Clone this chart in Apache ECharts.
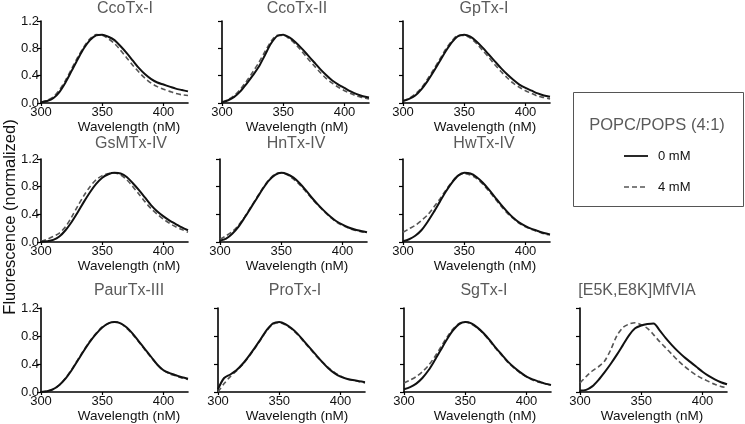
<!DOCTYPE html>
<html>
<head>
<meta charset="utf-8">
<script src="https://cdn.jsdelivr.net/npm/echarts@6/dist/echarts.min.js"></script>
<style>
html,body{margin:0;padding:0;background:#fff;}
#chart{width:745px;height:424px;}
</style>
</head>
<body>
<div id="chart"></div>
<script>
// ---------- data ----------
const wavelength = [300,305,310,315,320,325,330,335,340,345,350,355,360,365,370,375,380,385,390,395,400,405,410,415,420];
const panelNames = ['CcoTx-I','CcoTx-II','GpTx-I','GsMTx-IV','HnTx-IV','HwTx-IV','PaurTx-III','ProTx-I','SgTx-I','[E5K,E8K]MfVIA'];
const xTickValues = [300,350,400];
const yTickLabels = ['0.0','0.4','0.8','1.2'];
const legendTitle = 'POPC/POPS (4:1)';
const legendLabels = ['0 mM','4 mM'];

const ccoTx1_0mM = [0.01,0.03,0.07,0.16,0.30,0.47,0.64,0.80,0.92,0.99,1.00,0.97,0.92,0.83,0.73,0.62,0.51,0.42,0.35,0.30,0.27,0.24,0.21,0.19,0.17];
const ccoTx1_4mM = [0.01,0.04,0.09,0.19,0.33,0.50,0.67,0.82,0.94,1.00,0.99,0.94,0.87,0.77,0.66,0.55,0.45,0.36,0.29,0.24,0.20,0.17,0.14,0.12,0.11];
const ccoTx2_0mM = [0.01,0.04,0.09,0.17,0.28,0.40,0.53,0.70,0.87,0.98,1.00,0.96,0.89,0.80,0.70,0.60,0.50,0.41,0.33,0.27,0.22,0.17,0.13,0.10,0.08];
const ccoTx2_4mM = [0.01,0.05,0.11,0.20,0.32,0.45,0.59,0.75,0.90,0.99,0.99,0.94,0.86,0.76,0.65,0.55,0.45,0.36,0.29,0.23,0.18,0.14,0.10,0.08,0.06];
const gpTx1_0mM = [0.03,0.06,0.11,0.20,0.32,0.46,0.61,0.76,0.89,0.98,1.00,0.97,0.90,0.81,0.71,0.61,0.51,0.42,0.34,0.27,0.22,0.18,0.14,0.11,0.09];
const gpTx1_4mM = [0.03,0.07,0.13,0.22,0.35,0.49,0.64,0.79,0.91,0.99,0.99,0.95,0.87,0.77,0.67,0.56,0.46,0.37,0.29,0.23,0.18,0.14,0.10,0.08,0.06];
const gsMTx4_0mM = [0.00,0.01,0.03,0.08,0.17,0.29,0.43,0.58,0.72,0.84,0.93,0.98,1.00,0.99,0.94,0.85,0.75,0.64,0.53,0.44,0.37,0.31,0.26,0.21,0.17];
const gsMTx4_4mM = [0.01,0.04,0.08,0.13,0.22,0.36,0.52,0.67,0.80,0.90,0.96,0.99,1.00,0.97,0.90,0.80,0.69,0.58,0.48,0.40,0.33,0.27,0.22,0.18,0.14];
const hnTx4_0mM = [0.02,0.05,0.12,0.22,0.35,0.49,0.63,0.77,0.89,0.97,1.00,0.98,0.93,0.85,0.75,0.64,0.54,0.45,0.37,0.30,0.25,0.21,0.18,0.16,0.14];
const hnTx4_4mM = [0.04,0.09,0.15,0.24,0.36,0.50,0.64,0.78,0.90,0.98,1.00,0.97,0.91,0.83,0.73,0.63,0.53,0.44,0.36,0.29,0.24,0.20,0.17,0.15,0.13];
const hwTx4_0mM = [0.01,0.04,0.09,0.17,0.29,0.43,0.58,0.73,0.86,0.96,1.00,0.99,0.94,0.86,0.76,0.65,0.54,0.44,0.35,0.28,0.23,0.19,0.16,0.13,0.11];
const hwTx4_4mM = [0.14,0.19,0.24,0.31,0.39,0.50,0.62,0.75,0.87,0.96,0.99,0.97,0.92,0.84,0.74,0.63,0.52,0.42,0.34,0.27,0.22,0.18,0.15,0.12,0.10];
const paurTx3_0mM = [0.00,0.01,0.04,0.10,0.19,0.31,0.45,0.59,0.72,0.83,0.92,0.98,1.00,0.98,0.92,0.83,0.72,0.61,0.50,0.39,0.31,0.27,0.24,0.21,0.19];
const paurTx3_4mM = [0.00,0.01,0.04,0.10,0.20,0.32,0.46,0.60,0.73,0.84,0.93,0.98,1.00,0.98,0.91,0.82,0.71,0.60,0.49,0.39,0.31,0.26,0.23,0.20,0.18];
const proTx1_0mM = [0.04,0.20,0.25,0.31,0.40,0.51,0.63,0.76,0.89,0.98,1.00,0.97,0.91,0.83,0.73,0.63,0.53,0.43,0.34,0.27,0.22,0.19,0.17,0.155,0.14];
const proTx1_4mM = [0.00,0.12,0.22,0.30,0.39,0.50,0.62,0.75,0.88,0.97,0.99,0.96,0.90,0.82,0.72,0.62,0.52,0.43,0.35,0.28,0.23,0.19,0.17,0.15,0.13];
const sgTx1_0mM = [0.04,0.07,0.12,0.20,0.31,0.45,0.60,0.75,0.88,0.97,1.00,0.98,0.92,0.84,0.74,0.63,0.53,0.43,0.35,0.28,0.22,0.18,0.15,0.12,0.10];
const sgTx1_4mM = [0.13,0.17,0.22,0.29,0.38,0.50,0.64,0.78,0.90,0.98,1.00,0.97,0.91,0.83,0.73,0.62,0.52,0.42,0.34,0.27,0.22,0.17,0.14,0.12,0.10];
const mfVIA_0mM = [0.02,0.03,0.08,0.17,0.28,0.40,0.53,0.67,0.81,0.91,0.95,0.97,0.98,0.88,0.77,0.67,0.58,0.50,0.43,0.36,0.29,0.23,0.18,0.14,0.11];
const mfVIA_4mM = [0.13,0.22,0.30,0.36,0.44,0.60,0.80,0.92,0.97,0.99,0.96,0.91,0.82,0.72,0.63,0.54,0.45,0.37,0.30,0.24,0.19,0.15,0.11,0.08,0.06];

const solidSets = [ccoTx1_0mM,ccoTx2_0mM,gpTx1_0mM,gsMTx4_0mM,hnTx4_0mM,hwTx4_0mM,paurTx3_0mM,proTx1_0mM,sgTx1_0mM,mfVIA_0mM];
const dashedSets = [ccoTx1_4mM,ccoTx2_4mM,gpTx1_4mM,gsMTx4_4mM,hnTx4_4mM,hwTx4_4mM,paurTx3_4mM,proTx1_4mM,sgTx1_4mM,mfVIA_4mM];

// ---------- layout ----------
const panelLayout = [
  {left:41,  top:21,  h:82, tx:125, ty:1,   nx:129},
  {left:222, top:21,  h:82, tx:297, ty:1,   nx:297},
  {left:403, top:21,  h:82, tx:484, ty:1,   nx:485},
  {left:41,  top:159, h:83, tx:131, ty:136, nx:129},
  {left:220, top:159, h:83, tx:296, ty:136, nx:297},
  {left:403, top:159, h:83, tx:484, ty:136, nx:485},
  {left:41,  top:308, h:84, tx:129, ty:283, nx:129},
  {left:218, top:308, h:84, tx:295, ty:283, nx:297},
  {left:404, top:308, h:84, tx:484, ty:283, nx:485},
  {left:580, top:308, h:84, tx:637, ty:283, nx:652}
];
const PW = 147;
const FONT = 'Liberation Sans, Arial, sans-serif';

const grids=[], xAxes=[], yAxes=[], series=[], graphics=[];
panelLayout.forEach((p,i)=>{
  grids.push({left:p.left, top:p.top, width:PW, height:p.h, containLabel:false});
  xAxes.push({
    type:'value', gridIndex:i, min:300, max:420,
    axisLine:{show:true, onZero:false, lineStyle:{color:'#000', width:1.6}},
    axisTick:{show:true, length:3, customValues:xTickValues, lineStyle:{color:'#000', width:1.2}},
    axisLabel:{show:true, customValues:xTickValues, margin:3, fontSize:13, color:'#111', fontFamily:FONT},
    splitLine:{show:false}
  });
  const firstCol = (i===0||i===3||i===6);
  yAxes.push({
    type:'value', gridIndex:i, min:0, max:1.2, interval:0.4,
    axisLine:{show:true, lineStyle:{color:'#000', width:1.6}},
    axisTick:{show:true, length:4, lineStyle:{color:'#000', width:1.2}},
    axisLabel:{show:firstCol, margin:2, fontSize:13, color:'#111', fontFamily:FONT,
      formatter:(v)=>yTickLabels[Math.round(v/0.4)]},
    splitLine:{show:false}
  });
  series.push({
    type:'line', xAxisIndex:i, yAxisIndex:i, smooth:0.3, showSymbol:false, silent:true,
    data: wavelength.map((w,k)=>[w, dashedSets[i][k]]),
    lineStyle:{color:'#555', width:1.6, type:[5,3]}, z:2
  });
  series.push({
    type:'line', xAxisIndex:i, yAxisIndex:i, smooth:0.3, showSymbol:false, silent:true,
    data: wavelength.map((w,k)=>[w, solidSets[i][k]]),
    lineStyle:{color:'#111', width:2}, z:3
  });
  graphics.push({type:'text', x:p.tx, y:p.ty, style:{text:panelNames[i], fill:'#5a5a5a', font:'16px '+FONT, textAlign:'center', textVerticalAlign:'top'}});
  graphics.push({type:'text', x:p.nx, y:p.top+p.h+24, style:{text:'Wavelength (nM)', fill:'#111', font:'13.5px '+FONT, textAlign:'center', textVerticalAlign:'middle'}});
});

// y-axis label
graphics.push({type:'text', x:10, y:217, rotation:Math.PI/2,
  style:{text:'Fluorescence (normalized)', fill:'#111', font:'16.5px '+FONT, textAlign:'center', textVerticalAlign:'middle'}});

// legend box
graphics.push({type:'rect', shape:{x:573.5, y:92.5, width:170, height:114}, style:{fill:'#fff', stroke:'#555', lineWidth:1}});
graphics.push({type:'text', x:657, y:125, style:{text:legendTitle, fill:'#5a5a5a', font:'16.5px '+FONT, textAlign:'center', textVerticalAlign:'middle'}});
graphics.push({type:'line', shape:{x1:624, y1:156, x2:648, y2:156}, style:{stroke:'#111', lineWidth:1.8}});
graphics.push({type:'text', x:658, y:156, style:{text:legendLabels[0], fill:'#111', font:'13px '+FONT, textAlign:'left', textVerticalAlign:'middle'}});
graphics.push({type:'line', shape:{x1:624, y1:187, x2:648, y2:187}, style:{stroke:'#555', lineWidth:1.5, lineDash:[5,3]}});
graphics.push({type:'text', x:658, y:187, style:{text:legendLabels[1], fill:'#111', font:'13px '+FONT, textAlign:'left', textVerticalAlign:'middle'}});

const chart = echarts.init(document.getElementById('chart'), null, {renderer:'canvas'});
chart.setOption({
  animation:false,
  backgroundColor:'#fff',
  grid:grids, xAxis:xAxes, yAxis:yAxes, series:series, graphic:graphics
});
</script>
</body>
</html>
